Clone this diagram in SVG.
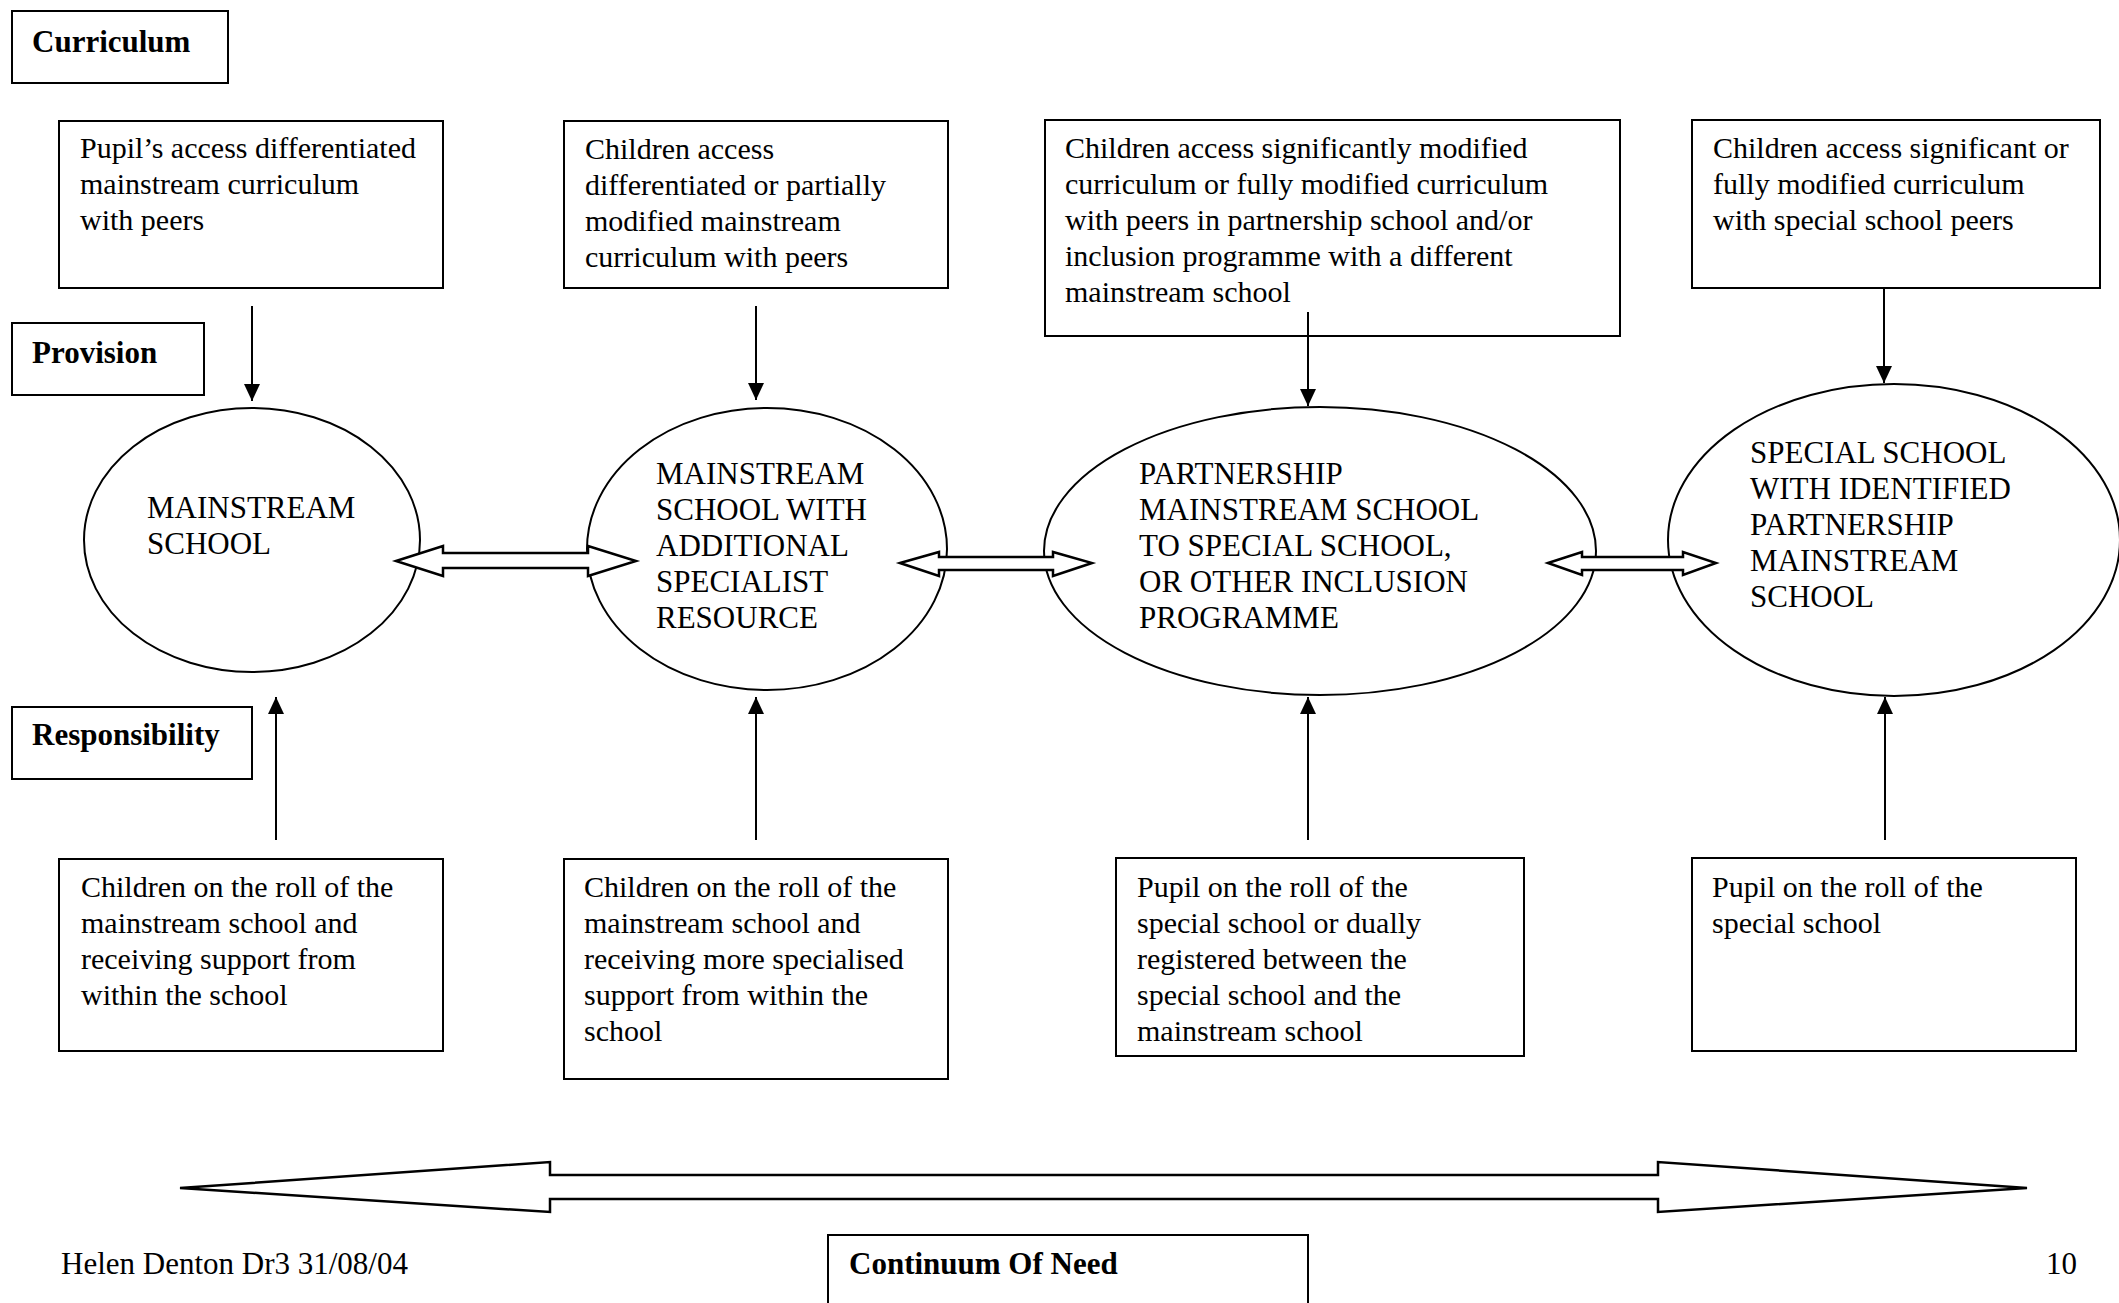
<svg xmlns="http://www.w3.org/2000/svg" width="2119" height="1303" viewBox="0 0 2119 1303">
<style>
.box{fill:#fff;stroke:#000;stroke-width:2}
.ell{fill:#fff;stroke:#000;stroke-width:2}
.t{font-family:"Liberation Serif","Times New Roman",serif;font-size:30px;fill:#000}
.e{font-family:"Liberation Serif","Times New Roman",serif;font-size:31px;fill:#000}
.b{font-family:"Liberation Serif","Times New Roman",serif;font-size:31px;font-weight:bold;fill:#000}
.ln{stroke:#000;stroke-width:2;fill:none}
.blk{fill:#fff;stroke:#000;stroke-width:2.5;stroke-linejoin:miter}
</style>
<defs>
<marker id="av" markerUnits="userSpaceOnUse" markerWidth="18" markerHeight="16" viewBox="0 0 18 16" refX="17" refY="8" orient="auto">
<path d="M0,0 L17,8 L0,16 Z" fill="#000"/>
</marker>
</defs>
<rect width="2119" height="1303" fill="#fff"/>

<g id="label-curriculum"><rect class="box" x="12" y="11" width="216" height="72"/><text class="b" x="32" y="52">Curriculum</text></g>
<g id="label-provision"><rect class="box" x="12" y="323" width="192" height="72"/><text class="b" x="32" y="363">Provision</text></g>
<g id="label-responsibility"><rect class="box" x="12" y="707" width="240" height="72"/><text class="b" x="32" y="745">Responsibility</text></g>

<g id="curr1"><rect class="box" x="59" y="121" width="384" height="167"/>
<text class="t" x="80" y="158">Pupil’s access differentiated</text>
<text class="t" x="80" y="194">mainstream curriculum</text>
<text class="t" x="80" y="230">with peers</text></g>
<g id="curr2"><rect class="box" x="564" y="121" width="384" height="167"/>
<text class="t" x="585" y="159">Children access</text>
<text class="t" x="585" y="195">differentiated or partially</text>
<text class="t" x="585" y="231">modified mainstream</text>
<text class="t" x="585" y="267">curriculum with peers</text></g>
<g id="curr3"><rect class="box" x="1045" y="120" width="575" height="216"/>
<text class="t" x="1065" y="158">Children access significantly modified</text>
<text class="t" x="1065" y="194">curriculum or fully modified curriculum</text>
<text class="t" x="1065" y="230">with peers in partnership school and/or</text>
<text class="t" x="1065" y="266">inclusion programme with a different</text>
<text class="t" x="1065" y="302">mainstream school</text></g>
<g id="curr4"><rect class="box" x="1692" y="120" width="408" height="168"/>
<text class="t" x="1713" y="158">Children access significant or</text>
<text class="t" x="1713" y="194">fully modified curriculum</text>
<text class="t" x="1713" y="230">with special school peers</text></g>

<g id="prov1"><ellipse class="ell" cx="252" cy="540" rx="168" ry="132"/>
<text class="e" x="147" y="518">MAINSTREAM</text>
<text class="e" x="147" y="554">SCHOOL</text></g>
<g id="prov2"><ellipse class="ell" cx="767" cy="549" rx="180" ry="141"/>
<text class="e" x="656" y="484">MAINSTREAM</text>
<text class="e" x="656" y="520">SCHOOL WITH</text>
<text class="e" x="656" y="556">ADDITIONAL</text>
<text class="e" x="656" y="592">SPECIALIST</text>
<text class="e" x="656" y="628">RESOURCE</text></g>
<g id="prov3"><ellipse class="ell" cx="1320" cy="551" rx="276" ry="144"/>
<text class="e" x="1139" y="484">PARTNERSHIP</text>
<text class="e" x="1139" y="520">MAINSTREAM SCHOOL</text>
<text class="e" x="1139" y="556">TO SPECIAL SCHOOL,</text>
<text class="e" x="1139" y="592">OR OTHER INCLUSION</text>
<text class="e" x="1139" y="628">PROGRAMME</text></g>
<g id="prov4"><ellipse class="ell" cx="1894" cy="540" rx="226" ry="156"/>
<text class="e" x="1750" y="463">SPECIAL SCHOOL</text>
<text class="e" x="1750" y="499">WITH IDENTIFIED</text>
<text class="e" x="1750" y="535">PARTNERSHIP</text>
<text class="e" x="1750" y="571">MAINSTREAM</text>
<text class="e" x="1750" y="607">SCHOOL</text></g>

<g id="resp1"><rect class="box" x="59" y="859" width="384" height="192"/>
<text class="t" x="81" y="897">Children on the roll of the</text>
<text class="t" x="81" y="933">mainstream school and</text>
<text class="t" x="81" y="969">receiving support from</text>
<text class="t" x="81" y="1005">within the school</text></g>
<g id="resp2"><rect class="box" x="564" y="859" width="384" height="220"/>
<text class="t" x="584" y="897">Children on the roll of the</text>
<text class="t" x="584" y="933">mainstream school and</text>
<text class="t" x="584" y="969">receiving more specialised</text>
<text class="t" x="584" y="1005">support from within the</text>
<text class="t" x="584" y="1041">school</text></g>
<g id="resp3"><rect class="box" x="1116" y="858" width="408" height="198"/>
<text class="t" x="1137" y="897">Pupil on the roll of the</text>
<text class="t" x="1137" y="933">special school or dually</text>
<text class="t" x="1137" y="969">registered between the</text>
<text class="t" x="1137" y="1005">special school and the</text>
<text class="t" x="1137" y="1041">mainstream school</text></g>
<g id="resp4"><rect class="box" x="1692" y="858" width="384" height="193"/>
<text class="t" x="1712" y="897">Pupil on the roll of the</text>
<text class="t" x="1712" y="933">special school</text></g>

<g id="connectors">
<line class="ln" x1="252" y1="306" x2="252" y2="401" marker-end="url(#av)"/>
<line class="ln" x1="756" y1="306" x2="756" y2="400" marker-end="url(#av)"/>
<line class="ln" x1="1308" y1="312" x2="1308" y2="406" marker-end="url(#av)"/>
<line class="ln" x1="1884" y1="288" x2="1884" y2="383" marker-end="url(#av)"/>
<line class="ln" x1="276" y1="840" x2="276" y2="697" marker-end="url(#av)"/>
<line class="ln" x1="756" y1="840" x2="756" y2="697" marker-end="url(#av)"/>
<line class="ln" x1="1308" y1="840" x2="1308" y2="697" marker-end="url(#av)"/>
<line class="ln" x1="1885" y1="840" x2="1885" y2="697" marker-end="url(#av)"/>
<polygon class="blk" points="396,561 443,546 443,553 588,553 588,546 636,561 588,576 588,568 443,568 443,576"/>
<polygon class="blk" points="900,563 939,552 939,557 1053,557 1053,552 1092,563 1053,576 1053,570 939,570 939,576"/>
<polygon class="blk" points="1548,563 1582,552 1582,557 1683,557 1683,552 1716,563 1683,575 1683,570 1582,570 1582,575"/>
<polygon class="blk" points="180,1188 550,1162 550,1175 1658,1175 1658,1162 2027,1188 1658,1212 1658,1199 550,1199 550,1212"/>
</g>

<g id="continuum"><rect class="box" x="828" y="1235" width="480" height="90"/><text class="b" x="849" y="1274">Continuum Of Need</text></g>
<g id="footer">
<text class="e" x="61" y="1274">Helen Denton Dr3 31/08/04</text>
<text class="e" x="2077" y="1274" text-anchor="end">10</text>
</g>
</svg>
